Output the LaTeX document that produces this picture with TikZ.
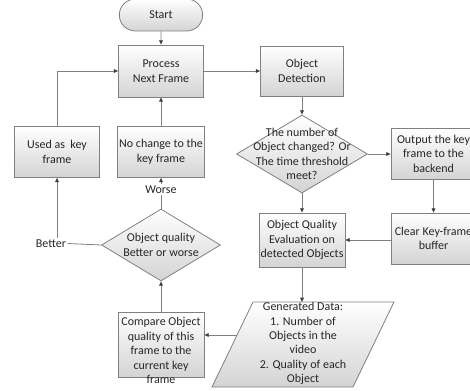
\documentclass[tikz,border=0pt]{standalone}
\usepackage{fontspec}
\setmainfont{Carlito}
\usetikzlibrary{shapes.geometric,shapes.misc,arrows.meta}
\definecolor{ln}{HTML}{808080}
\definecolor{tx}{HTML}{262626}
\tikzset{
  px/.style={x=0.75pt,y=-0.75pt},
  boxst/.style={draw=ln, line width=0.6pt, top color=white, bottom color=black!17, text=tx, align=center, inner sep=1pt, font=\fontsize{9}{10.8}\selectfont},
  procbox/.style={boxst, rectangle, minimum width=85*0.75pt, minimum height=51*0.75pt},
  decbox/.style={boxst, diamond, inner sep=0pt},
  termbox/.style={boxst, rounded rectangle, minimum width=86*0.75pt, minimum height=32*0.75pt},
  lbl/.style={text=tx, align=center, inner sep=1pt, font=\fontsize{9}{10.8}\selectfont},
  conn/.style={draw=ln, line width=0.6pt},
  arr/.style={conn, -{Triangle[length=3.2pt,width=2.8pt,color=black!75]}}
}
\begin{document}
\begin{tikzpicture}[px]
\useasboundingbox (0,0) rectangle (470,391);
\clip (0,0) rectangle (470,391);
% nodes
\node[termbox] (start) at (161,15) {Start};
\node[procbox, minimum height=52*0.75pt] (proc) at (161,71) {Process\\Next Frame};
\node[procbox] (used) at (57,152) {Used as\ \ key\\frame};
\node[procbox] (nochg) at (161,152) {No change to the\\key frame};
\node[procbox, minimum width=83*0.75pt, minimum height=50*0.75pt] (det) at (302,71) {Object\\Detection};
\node[decbox, minimum width=131*0.75pt, minimum height=78*0.75pt] (dia1) at (302,154) {};
\node[lbl] at (302,154) {The number of\\Object changed? Or\\The time threshold\\meet?};
\node[procbox] (out) at (433.5,153.5) {Output the key\\frame to the\\backend};
\node[procbox] (clr) at (433.5,238.5) {Clear Key-frame\\buffer};
\node[procbox, minimum width=86*0.75pt, minimum height=54*0.75pt] (qual) at (302,240) {Object Quality\\Evaluation on\\detected Objects};
% parallelogram
\coordinate (gTL) at (253,302);
\coordinate (gTR) at (394,302);
\coordinate (gBR) at (353,387);
\coordinate (gBL) at (212,387);
\shade[top color=white, bottom color=black!17] (gTL) -- (gTR) -- (gBR) -- (gBL) -- cycle;
\draw[ln, line width=0.6pt] (gTL) -- (gTR) -- (gBR) -- (gBL) -- cycle;
\coordinate (gtop) at (302,302);
\coordinate (gleft) at (237,335);
\node[lbl] (gen) at (303,343.5) {Generated Data:\\1. Number of\\Objects in the\\video\\2. Quality of each\\Object};
\node[procbox, minimum width=86*0.75pt, minimum height=65*0.75pt] (cmp) at (161,344.5) {};
\node[lbl] at (161,350.5) {Compare Object\\quality of this\\frame to the\\current key\\frame};
\node[decbox, minimum width=119*0.75pt, minimum height=72*0.75pt] (dia2) at (161,245) {};
\node[lbl] at (161,245) {Object quality\\Better or worse};
\node[lbl] (better) at (51,243.5) {Better};
% connectors
\draw[arr] (start) -- (proc);
\draw[arr] (proc) -- (det);
\draw[arr] (nochg) -- (proc);
\draw[arr] (used.north) |- (proc.west);
\draw[arr] (det) -- (dia1);
\draw[arr] (dia1.east) -- (out.west |- dia1.east);
\draw[arr] (out) -- (clr);
\draw[arr] (clr.west |- qual.east) -- (qual.east);
\draw[arr] (dia1.south) -- (qual.north);
\draw[arr] (qual.south) -- (gtop);
\draw[arr] (gleft) -- (cmp.east |- gleft);
\draw[arr] (cmp.north) -- (dia2.south);
\draw[arr] (dia2.north) -- node[lbl, fill=white, pos=0.62] {Worse} (nochg.south);
\draw[conn] (dia2.west) -- (better.east);
\draw[arr] (better.north -| used.south) -- (used.south);
\end{tikzpicture}
\end{document}
